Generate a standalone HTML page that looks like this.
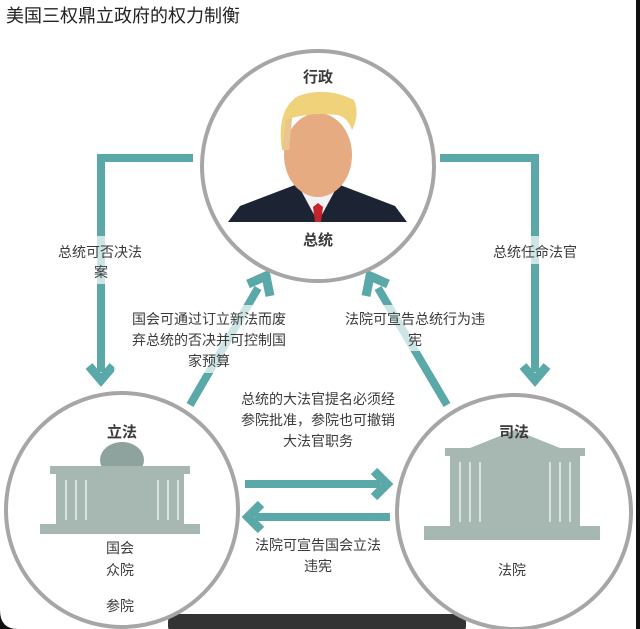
<!DOCTYPE html>
<html><head><meta charset="utf-8"><style>
html,body{margin:0;padding:0;background:#fff;}
svg{display:block;}
text{font-family:"Liberation Sans","Noto Sans CJK SC",sans-serif;fill:#3a3a3a;}
</style></head><body>
<svg width="640" height="629" viewBox="0 0 640 629" xmlns="http://www.w3.org/2000/svg">
<rect width="640" height="629" fill="#fff"/>
<rect x="636" y="0" width="4" height="629" fill="#111"/>
<path d="M0 610 Q0 629 18 629 L0 629Z" fill="#111"/>
<rect x="168" y="614" width="298" height="20" rx="8" fill="#333"/>
<text x="6" y="22" font-size="18" style="fill:#222">美国三权鼎立政府的权力制衡</text>

<g stroke="#5aa8a7" stroke-width="8" fill="none">
<polyline points="193,158 101,158 101,372"/>
<polyline points="440,158 535,158 535,372"/>
<line x1="190" y1="405" x2="258" y2="288"/>
<line x1="447" y1="405" x2="378" y2="288"/>
<line x1="245" y1="484" x2="380" y2="484"/>
<line x1="255" y1="517" x2="390" y2="517"/>
</g>
<g stroke="#5aa8a7" stroke-width="9" fill="none" stroke-linejoin="miter">
<polyline points="89,366 101,380 113,366"/>
<polyline points="523,366 535,380 547,366"/>
<polyline points="248,284 266,276 270,296"/>
<polyline points="366,296 370,276 388,284"/>
<polyline points="374,471 387,484 374,497"/>
<polyline points="261,504 248,517 261,530"/>
</g>
<rect x="60" y="236" width="80" height="48" fill="#fff" opacity="0.7"/>
<rect x="480" y="236" width="110" height="28" fill="#fff" opacity="0.7"/>
<rect x="114" y="305" width="190" height="68" fill="#fff" opacity="0.7"/>
<rect x="330" y="305" width="170" height="46" fill="#fff" opacity="0.7"/>

<g stroke="#a6a6a6" stroke-width="4" fill="#fff">
<ellipse cx="318" cy="166" rx="116" ry="115"/>
<ellipse cx="122" cy="510" rx="116" ry="117"/>
<ellipse cx="514" cy="512" rx="117" ry="117"/>
</g>

<!-- person -->
<path d="M228 222 L240 206 L295 185 L340 185 L395 206 L407 222Z" fill="#1c2333"/>
<path d="M298 185 L318 222 L338 185Z" fill="#f2f2f2"/>
<path d="M313 207 L318 203 L323 207 L321 222 L315 222Z" fill="#c8232c"/>
<rect x="305" y="175" width="26" height="18" fill="#e2a77e"/>
<ellipse cx="318" cy="155" rx="34" ry="42" fill="#e7ab82"/>
<path d="M282 150 Q276 110 298 96 Q326 86 354 100 Q360 115 352 130 Q348 118 338 115 Q312 112 292 118 L289 150Z" fill="#f0d27a"/>
<path d="M282 150 L286 120 L292 118 L289 150Z" fill="#e9c690"/>

<!-- buildings -->
<g fill="#a7b7b2">
<ellipse cx="122" cy="460" rx="22" ry="18" fill="#8ea39d"/>
<rect x="50" y="466" width="140" height="8"/>
<rect x="56" y="474" width="128" height="50"/>
<rect x="40" y="524" width="160" height="10"/>
<rect x="445" y="448" width="140" height="8"/>
<polygon points="470,448 515,430 560,448"/>
<rect x="450" y="456" width="130" height="70"/>
<rect x="424" y="526" width="176" height="14"/>
</g>
<g stroke="#d8e2df" stroke-width="2">
<line x1="66" y1="480" x2="66" y2="520"/><line x1="76" y1="480" x2="76" y2="520"/><line x1="86" y1="480" x2="86" y2="520"/><line x1="158" y1="480" x2="158" y2="520"/><line x1="168" y1="480" x2="168" y2="520"/><line x1="178" y1="480" x2="178" y2="520"/>
<line x1="460" y1="462" x2="460" y2="522"/><line x1="470" y1="462" x2="470" y2="522"/><line x1="480" y1="462" x2="480" y2="522"/><line x1="550" y1="462" x2="550" y2="522"/><line x1="560" y1="462" x2="560" y2="522"/><line x1="570" y1="462" x2="570" y2="522"/>
</g>

<g font-size="15" text-anchor="middle" font-weight="bold">
<text x="318" y="82">行政</text>
<text x="318" y="245">总统</text>
<text x="122" y="437">立法</text>
<text x="514" y="437">司法</text>
</g>
<g font-size="14" text-anchor="middle">
<text x="100" y="257">总统可否决法</text>
<text x="101" y="277">案</text>
<text x="535" y="257">总统任命法官</text>
<text x="209" y="324">国会可通过订立新法而废</text>
<text x="209" y="345">弃总统的否决并可控制国</text>
<text x="209" y="366">家预算</text>
<text x="415" y="324">法院可宣告总统行为违</text>
<text x="415" y="345">宪</text>
<text x="318" y="404">总统的大法官提名必须经</text>
<text x="318" y="425">参院批准，参院也可撤销</text>
<text x="318" y="446">大法官职务</text>
<text x="318" y="550">法院可宣告国会立法</text>
<text x="318" y="571">违宪</text>
<text x="120" y="553">国会</text>
<text x="120" y="575">众院</text>
<text x="120" y="611">参院</text>
<text x="512" y="575">法院</text>
</g>
</svg>
</body></html>
